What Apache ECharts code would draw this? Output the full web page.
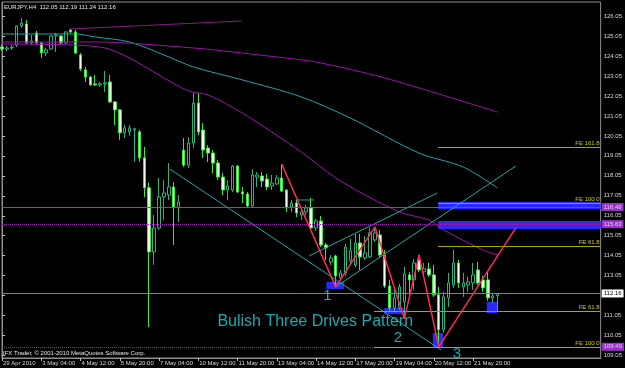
<!DOCTYPE html>
<html>
<head>
<meta charset="utf-8">
<title>EURJPY,H4</title>
<script src="https://cdn.jsdelivr.net/npm/echarts@6/dist/echarts.min.js"></script>
<style>
  html, body { margin: 0; padding: 0; background: #000; }
  #chart { width: 625px; height: 368px; }
</style>
</head>
<body>
<div id="chart"></div>
<script>
// EURJPY H4, bar 0 = 29 Apr 2010 20:00
var symbol = 'EURJPY,H4';
var opens = [124.50, 124.40, 124.45, 124.60, 125.55, 125.65, 124.70, 125.20, 124.70, 124.20,
    124.40, 125.05, 125.05, 124.70, 125.35, 125.25, 124.10, 123.35, 123.00, 122.65,
    122.60, 122.65, 122.75, 121.75, 121.35, 120.20, 120.25, 120.35, 120.25, 118.95,
    117.45, 114.24, 115.44, 116.99, 117.09, 117.49, 116.44, 119.34, 118.59, 119.69,
    121.69, 120.34, 119.44, 119.19, 118.69, 117.99, 117.34, 117.34, 118.54, 117.24,
    117.14, 116.54, 117.99, 118.04, 117.89, 117.54, 117.64, 117.94, 117.34, 116.49,
    116.69, 116.09, 116.24, 116.44, 115.44, 115.79, 114.59, 113.74, 114.04, 112.94,
    113.19, 113.79, 113.59, 114.69, 113.94, 113.99, 114.84, 115.09, 114.09, 112.54,
    111.44, 111.44, 111.74, 113.09, 112.84, 113.84, 113.24, 113.39, 113.09, 112.09,
    110.34, 111.94, 112.59, 113.69, 112.49, 112.59, 112.69, 113.34, 112.84, 112.84,
    111.94, 112.05];
var closes = [124.40, 124.45, 124.48, 125.55, 125.70, 124.70, 124.80, 124.70, 124.20, 124.35,
    125.05, 125.10, 124.70, 125.25, 125.25, 124.20, 123.40, 123.00, 122.60, 122.60,
    122.65, 122.70, 121.75, 121.35, 120.20, 120.45, 120.45, 120.40, 118.95, 117.45,
    114.24, 115.44, 116.99, 117.19, 117.49, 116.49, 116.74, 118.59, 119.69, 121.69,
    120.24, 119.34, 119.19, 118.69, 117.99, 117.34, 117.54, 118.54, 117.24, 117.14,
    116.54, 118.09, 118.09, 117.79, 117.49, 117.69, 117.94, 117.29, 116.44, 116.69,
    116.19, 116.24, 116.44, 115.44, 115.79, 114.59, 114.44, 113.94, 113.04, 113.19,
    114.49, 114.29, 114.69, 113.99, 114.19, 115.19, 115.19, 114.09, 112.54, 111.44,
    111.94, 112.49, 113.14, 112.84, 113.69, 113.34, 113.39, 113.09, 112.09, 110.34,
    111.99, 112.69, 113.69, 112.69, 112.69, 112.74, 113.09, 112.69, 112.44, 111.94,
    112.04, 112.16];
var lows = [124.30, 124.30, 124.35, 124.50, 125.45, 124.65, 124.60, 124.65, 123.95, 124.05,
    124.35, 124.25, 124.60, 124.65, 125.20, 124.15, 123.30, 122.75, 122.55, 122.55,
    122.50, 122.25, 121.70, 120.60, 119.85, 119.95, 120.05, 118.75, 118.75, 116.99,
    110.48, 113.59, 115.34, 115.84, 116.84, 114.59, 115.74, 118.49, 118.44, 119.44,
    120.09, 118.94, 118.74, 118.19, 117.84, 117.09, 116.84, 117.24, 117.19, 116.69,
    116.49, 116.44, 117.49, 117.49, 117.34, 117.34, 117.59, 117.24, 116.24, 116.24,
    115.99, 115.84, 116.09, 115.34, 115.29, 114.49, 113.84, 113.59, 112.49, 112.79,
    113.04, 113.59, 113.49, 113.34, 113.84, 113.94, 114.74, 113.94, 112.44, 111.24,
    111.24, 111.34, 110.89, 111.99, 112.34, 113.24, 113.09, 112.99, 111.99, 109.49,
    110.19, 111.49, 112.44, 112.44, 111.99, 112.24, 112.34, 112.59, 112.24, 111.79,
    111.69, 111.24];
var highs = [124.60, 124.55, 124.60, 125.60, 125.95, 125.85, 125.10, 125.30, 124.75, 124.45,
    125.10, 125.20, 125.10, 125.30, 125.40, 125.35, 124.20, 123.50, 123.05, 123.10,
    122.75, 123.30, 123.10, 121.80, 121.40, 120.60, 120.60, 120.45, 120.35, 119.50,
    117.70, 116.09, 117.94, 117.84, 118.69, 117.74, 117.09, 119.94, 119.99, 122.19,
    122.19, 120.69, 119.59, 119.34, 118.84, 118.19, 117.84, 118.59, 118.59, 117.49,
    117.24, 118.39, 118.24, 118.24, 118.14, 118.09, 118.09, 118.64, 117.39, 116.84,
    116.84, 116.34, 116.59, 116.94, 115.89, 116.04, 114.69, 114.09, 114.09, 113.34,
    114.64, 114.89, 115.14, 115.14, 115.04, 115.44, 115.49, 115.34, 114.34, 112.84,
    112.49, 112.64, 113.49, 113.24, 113.89, 114.09, 113.69, 113.69, 113.59, 112.49,
    112.24, 113.19, 114.34, 113.84, 113.19, 112.99, 113.69, 113.74, 113.04, 113.24,
    112.19, 112.19];

// time axis: one label every 8 bars
var timeLabels = ['29 Apr 2010', '3 May 04:00', '4 May 12:00', '5 May 20:00', '7 May 04:00',
    '10 May 12:00', '11 May 20:00', '13 May 04:00', '14 May 12:00', '17 May 20:00',
    '19 May 04:00', '20 May 12:00', '21 May 20:00'];
var labelStep = 8;
var totalSlots = 123; // bars + empty shift on the right

var priceTicks = [109.05, 110.05, 111.05, 112.05, 113.05, 114.05, 115.05, 116.05, 117.05,
    118.05, 119.05, 120.05, 121.05, 122.05, 123.05, 124.05, 125.05, 126.05];

// moving averages [bar, price]
var maTeal = [[0, 125.15], [15, 125.15], [19, 125.0], [26, 124.75], [33, 124.1], [39, 123.5],
    [49, 122.85], [61, 122.0], [71, 120.94], [85, 119.19], [94, 118.49], [101, 117.44]];
var maPurpleMid = [[0, 124.75], [19, 124.75], [39, 124.45], [47, 124.25], [61, 123.85],
    [65, 123.7], [78, 122.95], [101, 121.24]];
var maPurpleLow = [[0, 124.65], [14, 124.6], [21, 124.45], [26, 123.95], [33, 122.95],
    [38, 122.3], [42, 122.1], [49, 121.19], [55, 120.24], [61, 119.24], [69, 117.79],
    [81, 116.24], [87, 115.84], [90, 115.34], [98, 114.34], [101, 114.09]];
var trendTop = [[13.8, 125.4], [48.8, 125.8]];

// three drives zigzag
var drivesZigzag = [[57, 118.64], [68, 112.49], [76, 115.49], [82, 110.89], [85, 114.09],
    [89, 109.49], [104.7, 115.44]];
// channel lines
var channelLines = [
    [[34.2, 118.39], [89.5, 109.33]],
    [[62.6, 114.04], [88.7, 117.19]],
    [[68, 112.49], [104.7, 118.54]],
    [[60.0, 116.84], [63.6, 116.84]]
];

// blue zones [x1, y1, x2, y2]
var zones = [[88.9, 116.75, 122, 116.37], [88.9, 115.79, 122, 115.39],
    [66.1, 112.74, 69.7, 112.39], [77.9, 111.43, 81.9, 111.13],
    [87.8, 110.18, 89.9, 109.43], [98.8, 111.74, 100.9, 111.18]];

// fibo expansion levels
var feNames = ['FE 161.8', 'FE 100.0', 'FE 61.8', 'FE 61.8', 'FE 100.0'];
var feLevels = [119.49, 116.69, 114.53, 111.28, 109.48];
var feStart = [88.9, 88.9, 88.9, 75.8, 75.8];

var levelLines = [116.49, 115.63, 109.49];

var driveLabels = ['1', '2', '3'];
var driveLabelPos = [[66.3, 112.04], [80.7, 109.93], [92.7, 109.13]];
var patternTitle = 'Bulish Three Drives Pattern';
var patternTitlePos = [43.9, 110.73];

var last = opens.length - 1;
var bid = closes[last];

var cats = [];
for (var i = 0; i < totalSlots; i++) {
    var k = i / labelStep;
    cats.push(i % labelStep === 0 && k < timeLabels.length ? timeLabels[k] : '');
}
var candles = opens.map(function (o, i) {
    return [o, closes[i], lows[i], highs[i]];
});

var FONT = 'Liberation Sans';
var cyan = '#1fd2dc';
var gray = '#808080';
var feColor = '#a8a800';

function lineSeries(data, color, extra) {
    var s = {
        type: 'line', xAxisIndex: 1, data: data, showSymbol: false, symbol: 'none',
        silent: true, z: 3, lineStyle: { color: color, width: 1 }
    };
    for (var key in extra) s[key] = extra[key];
    return s;
}

var series = [{
    type: 'candlestick',
    data: candles,
    barWidth: 3,
    z: 2,
    itemStyle: {
        color: '#000',
        color0: '#f0fff0',
        borderColor: '#2bb380',
        borderColor0: '#33ee33',
        borderWidth: 1
    }
}];

series.push(lineSeries(maTeal, '#1aa6a6', { smooth: 0.3 }));
series.push(lineSeries(maPurpleMid, '#a010b0', { smooth: 0.3 }));
series.push(lineSeries(maPurpleLow, '#a010b0', { smooth: 0.3 }));
series.push(lineSeries(trendTop, '#8a1a8a'));
channelLines.forEach(function (seg) {
    series.push(lineSeries(seg, '#1fa8a8'));
});

// zones
series.push({
    type: 'line', xAxisIndex: 1, data: [], z: 3, silent: true,
    markArea: {
        silent: true,
        itemStyle: { color: '#2a2aff', opacity: 1 },
        data: zones.map(function (b) {
            return [{ coord: [b[0], b[1]] }, { coord: [b[2], b[3]] }];
        })
    }
});

// horizontal price levels
var hl = levelLines.map(function (v, i) {
    return {
        yAxis: v,
        lineStyle: { color: i === 0 ? '#8a3ae0' : '#9a20b0', width: 1, type: i === 0 ? 'solid' : 'dotted' },
        label: {
            show: true, position: 'end', distance: 1, formatter: v.toFixed(2),
            fontFamily: FONT, fontSize: 6, color: '#d8d8d8', backgroundColor: '#9933cc',
            padding: [1, 2, 1, 2]
        }
    };
});
hl.push({
    yAxis: bid,
    lineStyle: { color: gray, width: 1, type: 'solid' },
    label: {
        show: true, position: 'end', distance: 1, formatter: bid.toFixed(2),
        fontFamily: FONT, fontSize: 6, color: '#000', backgroundColor: '#fff',
        padding: [1, 2, 1, 2]
    }
});
series.push({
    type: 'line', xAxisIndex: 1, data: [], z: 4, silent: true,
    markLine: { symbol: 'none', silent: true, data: hl }
});

// fibo expansion
series.push({
    type: 'line', xAxisIndex: 1, data: [], z: 4, silent: true,
    markLine: {
        symbol: 'none', silent: true,
        data: feLevels.map(function (v, i) {
            return [{
                name: feNames[i], coord: [feStart[i], v],
                lineStyle: { color: feColor, width: 1, type: 'solid' },
                label: {
                    show: true, position: 'insideEndTop', distance: 1, formatter: '{b}',
                    fontFamily: FONT, fontSize: 6, color: '#d0d000'
                }
            }, { coord: [122, v] }];
        })
    }
});

series.push(lineSeries(drivesZigzag, '#ff2a55', { z: 5, lineStyle: { color: '#ff2a55', width: 1.5 } }));

// texts
series.push({
    type: 'scatter', xAxisIndex: 1, symbolSize: 0, silent: true, z: 6,
    data: driveLabels.map(function (t, i) {
        return { name: t, value: driveLabelPos[i] };
    }),
    label: {
        show: true, position: 'inside', formatter: '{b}',
        fontFamily: FONT, fontSize: 15, color: cyan
    }
});
series.push({
    type: 'scatter', xAxisIndex: 1, symbolSize: 0, silent: true, z: 6,
    data: [{ name: patternTitle, value: patternTitlePos }],
    label: {
        show: true, position: 'inside', align: 'left', formatter: '{b}',
        fontFamily: FONT, fontSize: 16, color: cyan
    }
});

var header = symbol + '  ' + [opens[last], highs[last], lows[last], closes[last]]
    .map(function (v) { return v.toFixed(2); }).join(' ');

var option = {
    backgroundColor: '#000',
    animation: false,
    grid: { left: 2, right: 23, top: 2, bottom: 10, show: true, borderColor: '#909090', borderWidth: 1, backgroundColor: '#000' },
    xAxis: [{
        type: 'category',
        data: cats,
        boundaryGap: false,
        axisLine: { show: true, lineStyle: { color: '#909090' } },
        axisTick: {
            show: true, length: 3, lineStyle: { color: '#c0c0c0' },
            interval: function (idx, val) { return val !== ''; }
        },
        axisLabel: {
            interval: function (idx, val) { return val !== ''; },
            align: 'left', margin: 2, padding: [0, 0, 0, 1],
            fontFamily: FONT, fontSize: 6, color: '#d8d8d8'
        },
        splitLine: { show: false }
    }, {
        type: 'value', min: 0, max: totalSlots - 1, show: false
    }],
    yAxis: {
        type: 'value',
        position: 'right',
        min: 108.93,
        max: 126.75,
        axisLine: { show: true, lineStyle: { color: '#909090' } },
        axisTick: { show: true, length: 3, customValues: priceTicks, lineStyle: { color: '#c0c0c0' } },
        axisLabel: {
            customValues: priceTicks, margin: 3,
            formatter: function (v) { return v.toFixed(2); },
            fontFamily: FONT, fontSize: 6, color: '#d8d8d8'
        },
        splitLine: { show: false }
    },
    graphic: [{
        type: 'text', left: 4, top: 4, z: 10,
        style: { text: header, fill: '#e8e8e8', fontFamily: FONT, fontSize: 6 }
    }, {
        type: 'text', left: 3, top: 350, z: 10,
        style: { text: 'IFX Trader, \u00a9 2001-2010 MetaQuotes Software Corp.', fill: '#e8e8e8', fontFamily: FONT, fontSize: 6 }
    }],
    series: series
};

var chart = echarts.init(document.getElementById('chart'));
chart.setOption(option);
</script>
</body>
</html>
